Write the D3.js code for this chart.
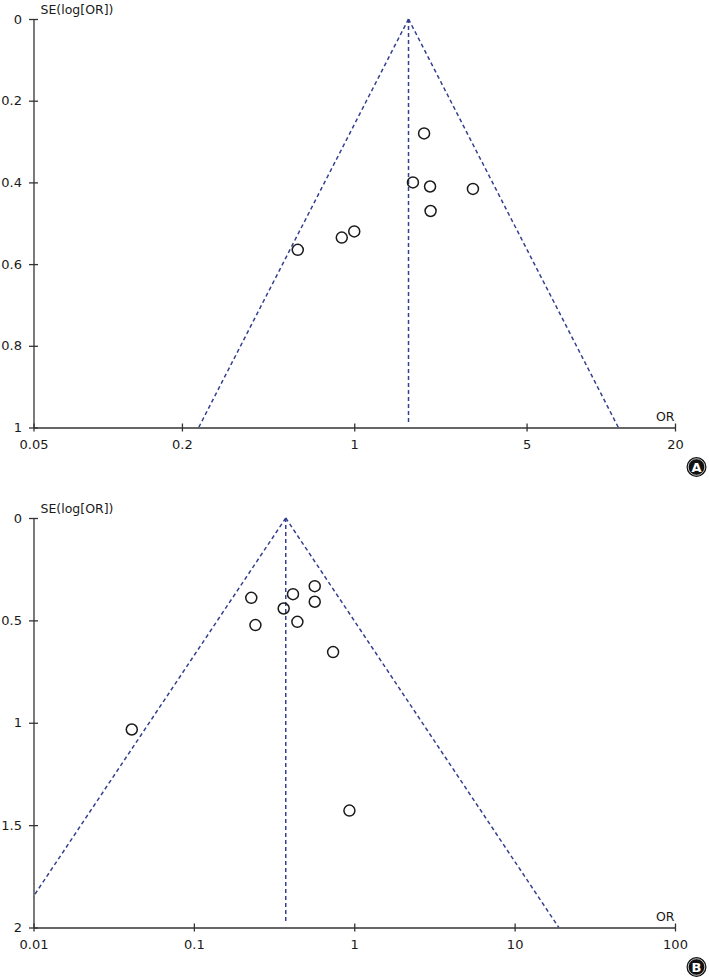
<!DOCTYPE html>
<html>
<head>
<meta charset="utf-8">
<script src="https://cdn.jsdelivr.net/npm/d3@7"></script>
<style>
  body { margin: 0; background: #fff; }
  svg { display: block; font-family: "DejaVu Sans", sans-serif; }
  .axis path, .axis line { stroke: #333; stroke-width: 1.3; }
  .axis text { font-size: 13px; fill: #1a1a1a; font-family: "DejaVu Sans", sans-serif; }
</style>
</head>
<body>
<script>
// Panel A
const orA = [1.92, 1.73, 2.03, 3.03, 2.04, 1.0, 0.89, 0.59];
const seA = [0.28, 0.40, 0.41, 0.416, 0.47, 0.52, 0.535, 0.565];
const pooledA = 1.66;
const xTicksA = [0.05, 0.2, 1, 5, 20];
const yTicksA = [0, 0.2, 0.4, 0.6, 0.8, 1];

// Panel B
const orB = [0.228, 0.415, 0.567, 0.567, 0.363, 0.242, 0.442, 0.738, 0.041, 0.933];
const seB = [0.39, 0.372, 0.333, 0.409, 0.442, 0.523, 0.507, 0.655, 1.033, 1.429];
const pooledB = 0.374;
const xTicksB = [0.01, 0.1, 1, 10, 100];
const yTicksB = [0, 0.5, 1, 1.5, 2];

const width = 709, height = 977;
const svg = d3.select("body").append("svg").attr("width", width).attr("height", height);
const blue = "#34408f";

function drawPanel(opt) {
  const x = d3.scaleLog().domain([opt.xTicks[0], opt.xTicks[opt.xTicks.length - 1]]).range([33.5, 675]);
  const y = d3.scaleLinear().domain([0, opt.yTicks[opt.yTicks.length - 1]]).range([opt.top, opt.bottom]);
  const g = svg.append("g");

  //clip so funnel lines stay inside the plot
  const clipId = "clip" + opt.letter;
  g.append("clipPath").attr("id", clipId).append("rect")
    .attr("x", x.range()[0]).attr("y", opt.top - 2)
    .attr("width", x.range()[1] - x.range()[0]).attr("height", opt.bottom - opt.top + 2);

  const seMax = y.domain()[1];
  const funnel = g.append("g").attr("clip-path", "url(#" + clipId + ")")
    .attr("fill", "none").attr("stroke", blue).attr("stroke-width", 1.5).attr("stroke-dasharray", "4,3");
  [-1, 1].forEach(s => {
    funnel.append("line")
      .attr("x1", x(opt.pooled)).attr("y1", y(0))
      .attr("x2", x(opt.pooled * Math.exp(s * 1.96 * seMax))).attr("y2", y(seMax));
  });
  funnel.append("line")
    .attr("x1", x(opt.pooled)).attr("y1", y(0))
    .attr("x2", x(opt.pooled)).attr("y2", y(seMax) - 4);

  //points
  g.selectAll("circle.pt")
    .data(opt.or.map((d, i) => ({or: d, se: opt.se[i]})))
    .enter().append("circle")
    .attr("class", "pt")
    .attr("cx", d => x(d.or))
    .attr("cy", d => y(d.se))
    .attr("r", 5.5)
    .attr("fill", "none")
    .attr("stroke", "#1a1a1a")
    .attr("stroke-width", 1.5);

  //axes
  const xAxis = d3.axisBottom(x).tickValues(opt.xTicks).tickFormat(d3.format("~g")).tickSizeInner(4).tickSizeOuter(0).tickPadding(8);
  const gx = g.append("g").attr("class", "axis").attr("transform", "translate(0," + opt.bottom + ")").call(xAxis);
  gx.selectAll(".tick line").attr("y1", -4).attr("y2", 4);

  const yAxis = d3.axisLeft(y).tickValues(opt.yTicks).tickFormat(d3.format("~g")).tickSizeInner(4.5).tickSizeOuter(0).tickPadding(7);
  const gy = g.append("g").attr("class", "axis").attr("transform", "translate(33.5,0)").call(yAxis);
  gy.selectAll(".tick line").attr("x1", -4.5).attr("x2", 4.5);

  //axis titles
  g.append("text").attr("x", 40.5).attr("y", opt.top - 5)
    .attr("font-size", 12.5).attr("fill", "#1a1a1a").text("SE(log[OR])");
  g.append("text").attr("x", 674.5).attr("y", opt.bottom - 7)
    .attr("text-anchor", "end").attr("font-size", 12.5).attr("fill", "#1a1a1a").text("OR");

  //letter badge
  const b = g.append("g").attr("transform", "translate(696.5," + (opt.bottom + 39.5) + ")");
  b.append("circle").attr("r", 10).attr("fill", "#111");
  b.append("circle").attr("r", 8.3).attr("fill", "none").attr("stroke", "#eee").attr("stroke-width", 0.8);
  b.append("text").attr("text-anchor", "middle").attr("dy", "0.36em")
    .attr("font-size", 13).attr("font-weight", "bold").attr("fill", "#fff").text(opt.letter);
}

drawPanel({or: orA, se: seA, pooled: pooledA, xTicks: xTicksA, yTicks: yTicksA, top: 19, bottom: 427.5, letter: "A"});
drawPanel({or: orB, se: seB, pooled: pooledB, xTicks: xTicksB, yTicks: yTicksB, top: 518, bottom: 927.5, letter: "B"});
</script>
</body>
</html>
